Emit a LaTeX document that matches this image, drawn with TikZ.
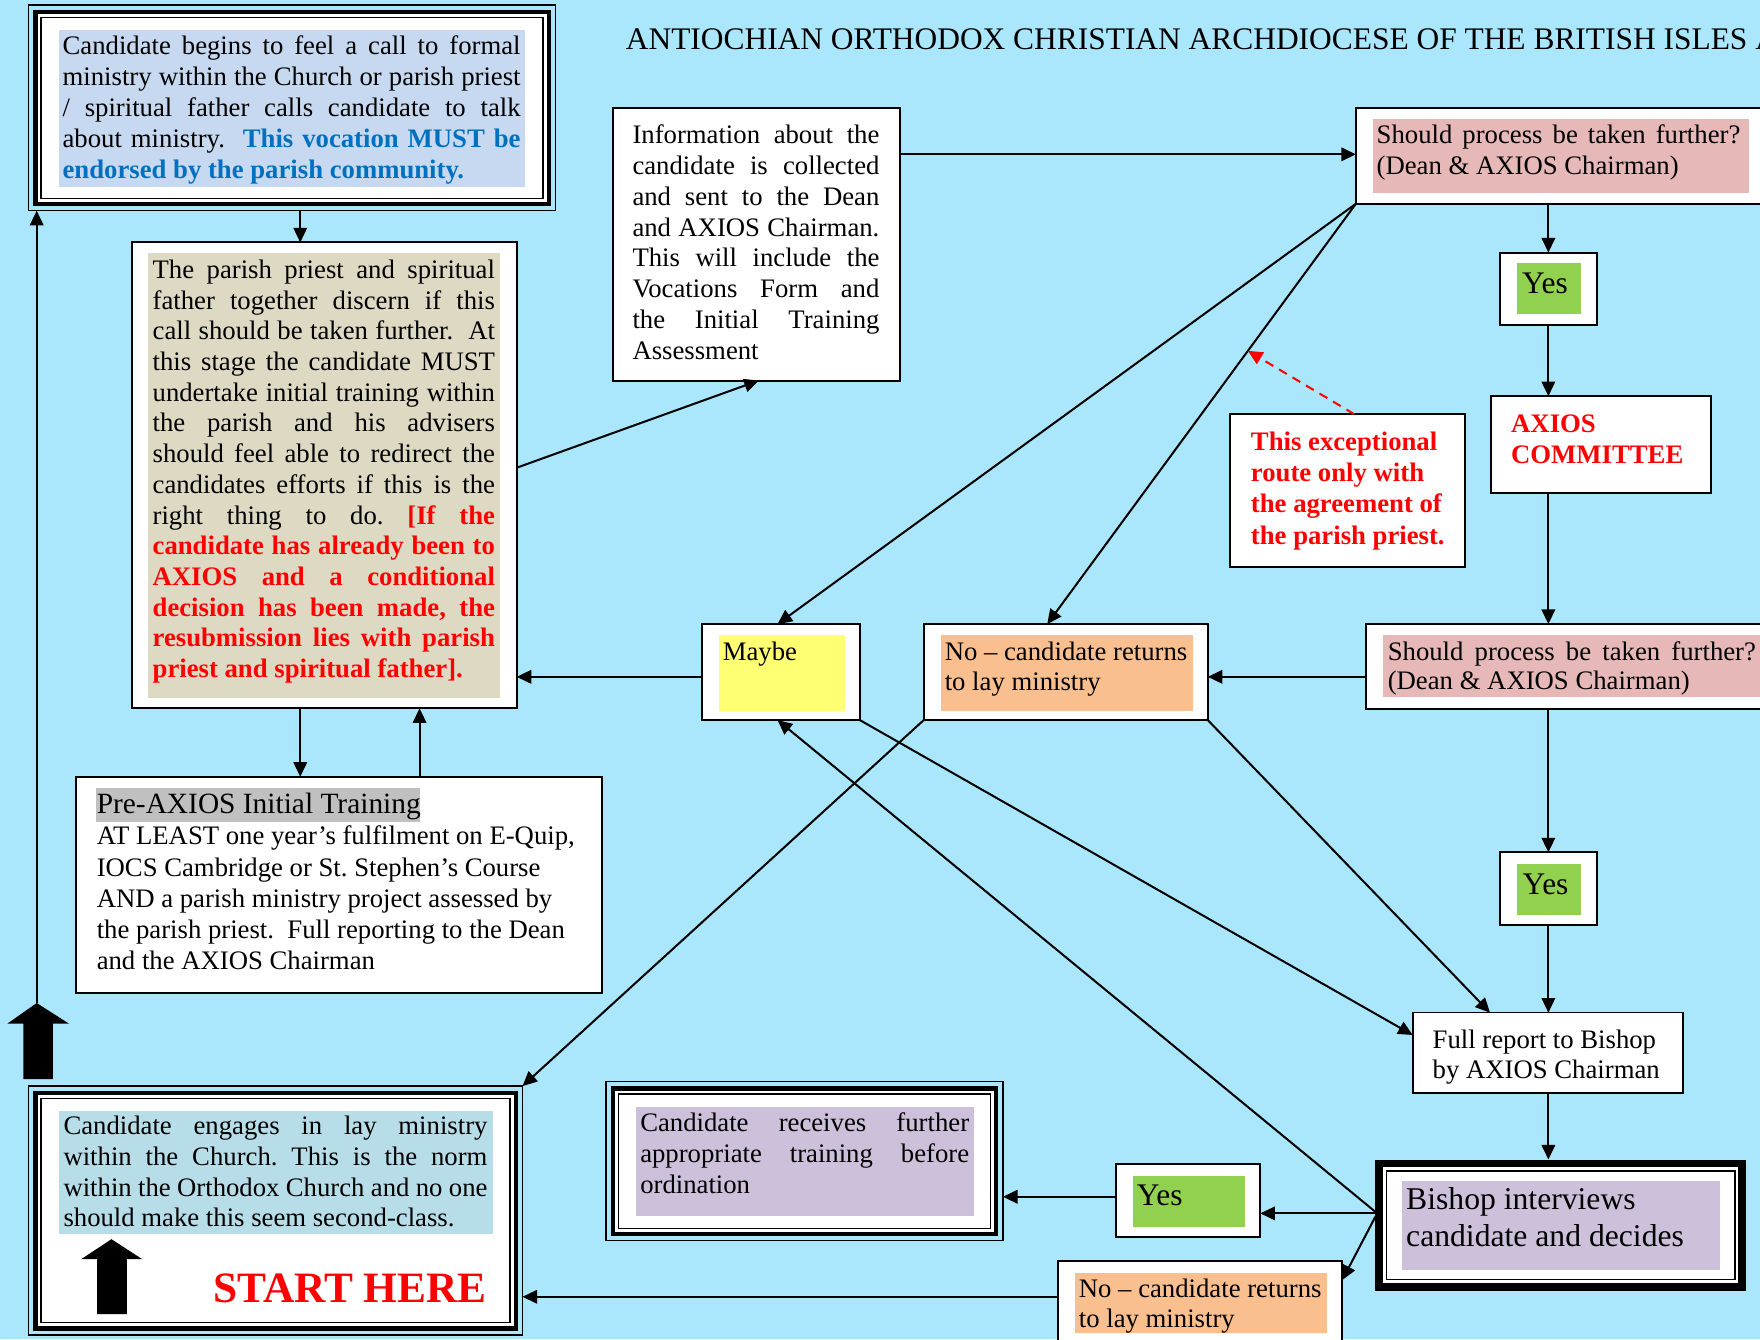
\documentclass[tikz,border=0pt]{standalone}
\usepackage{fontspec}
\setmainfont{Liberation Serif}
\usetikzlibrary{arrows.meta,fit,calc}
\definecolor{bgblue}{RGB}{170,231,252}
\definecolor{fillA}{RGB}{198,217,240}
\definecolor{blueT}{RGB}{0,112,192}
\definecolor{tanF}{RGB}{221,217,195}
\definecolor{pinkF}{RGB}{230,184,183}
\definecolor{greenF}{RGB}{146,208,80}
\definecolor{yellowF}{RGB}{255,255,115}
\definecolor{orangeF}{RGB}{250,191,143}
\definecolor{purpleF}{RGB}{204,192,218}
\definecolor{startF}{RGB}{183,222,232}
\definecolor{grayF}{RGB}{192,192,192}
\definecolor{redT}{RGB}{255,0,0}
\frenchspacing
\newcommand{\normsp}{\spaceskip=0pt\xspaceskip=0pt\frenchspacing\relax}
\newcommand{\jline}[1]{\makebox[\hsize][s]{\normsp #1}}
\newcommand{\redbf}[1]{{\color{redT}\bfseries #1}}
\newcommand{\bluebf}[1]{{\color{blueT}\bfseries #1}}
\newcommand{\tripleframe}[1]{%
  \fill[white] ($(#1.north west)+(4,4)$) rectangle ($(#1.south east)+(-4,-4)$);
  \draw[line width=2pt] ($(#1.north west)+(6,6)$) rectangle ($(#1.south east)+(-6,-6)$);
  \draw[line width=0.7pt] ($(#1.north west)+(11,11)$) rectangle ($(#1.south east)+(-11,-11)$);
}
\tikzset{
  box/.style={draw=black, line width=0.9pt, fill=white, inner sep=0pt, outer sep=0pt},
  thinbox/.style={box, line width=0.7pt},
  tripleout/.style={draw=black, line width=0.6pt, inner sep=0pt, outer sep=0pt},
  heavyout/.style={draw=black, line width=3.5pt, fill=white, inner sep=0pt, outer sep=1.75pt},
  tx/.style={inner sep=0pt, outer sep=0pt, anchor=base west, font=\fontsize{11.9}{13.7}\selectfont},
  tw/.style={tx, align=left},
  conn/.style={draw=black, line width=0.9pt, -{Triangle[length=6.5pt,width=6pt]}},
  dconn/.style={draw=redT, line width=0.9pt, dash pattern=on 4pt off 3pt, -{Triangle[length=6.5pt,width=6pt]}},
}
\begin{document}
\begin{tikzpicture}[x=0.5pt,y=-0.5pt]
\useasboundingbox (0,0) rectangle (1568,1193);
\clip (0,0) rectangle (1568,1193);
\fill[bgblue] (0,0) rectangle (1568,1193);

% title
\node[tx, font=\fontsize{14}{16}\selectfont] (title) at (557.6,44.5) {ANTIOCHIAN ORTHODOX CHRISTIAN ARCHDIOCESE OF THE BRITISH ISLES A};

% box 1 (top left)
\node[tripleout, fit={(25.5,4.5)(495,187.7)}] (b1) {};
\tripleframe{b1}
\fill[fillA] (52.2,26.7) rectangle (467.8,166.3);
\node[tw, text width=204pt, font=\fontsize{11.9}{13.85}\selectfont] (b1t) at (55.8,48.4) {\normsp
\jline{Candidate begins to feel a call to formal}\\
\jline{ministry within the Church or parish priest}\\
\jline{/ spiritual father calls candidate to talk}\\
\jline{about ministry.\ \ \bluebf{This vocation MUST be}}\\
\bluebf{endorsed by the parish community.}};

% info box
\node[box, fit={(546,96.5)(802,339)}] (info) {};
\node[tw, text width=110pt] (infot) at (563.5,128.2) {\normsp
\jline{Information about the}\\
\jline{candidate is collected}\\
\jline{and sent to the Dean}\\
\jline{and AXIOS Chairman.}\\
\jline{This will include the}\\
\jline{Vocations Form and}\\
\jline{the Initial Training}\\
Assessment};

% should (top)
\node[box, fit={(1208,96.5)(1600,181.5)}] (shT) {};
\fill[pinkF] (1223,106) rectangle (1558.3,172);
\node[tw, text width=162pt, font=\fontsize{11.9}{14}\selectfont] (shTt) at (1226.5,127.8) {\normsp
\jline{Should process be taken further?}\\
(Dean \& AXIOS Chairman)};

% yes 1
\node[box, fit={(1336.4,225)(1422.5,289.5)}] (yes1) {};
\fill[greenF] (1351.6,234.6) rectangle (1408.6,279.8);
\node[tx, font=\fontsize{14}{16}\selectfont] (yes1t) at (1356,261.3) {Yes};

% AXIOS committee
\node[box, fit={(1328,353)(1524,439)}] (axios) {};
\node[tw, text width=90pt, font=\fontsize{11.9}{14.1}\selectfont\bfseries\color{redT}] (axiost) at (1346.3,385) {\normsp AXIOS\\COMMITTEE};

% exceptional
\node[box, fit={(1096,369)(1305,505.5)}] (except) {};
\node[tw, text width=95pt, font=\fontsize{11.9}{14}\selectfont\bfseries\color{redT}] (exceptt) at (1114.5,401) {\normsp This exceptional\\route only with\\the agreement of\\the parish priest.};

% discern
\node[box, fit={(117.3,216)(460.3,631)}] (disc) {};
\fill[tanF] (132,225.7) rectangle (445.5,621.6);
\node[tw, text width=152.5pt, font=\fontsize{11.9}{13.68}\selectfont] (disct) at (136,248) {\normsp
\jline{The parish priest and spiritual}\\
\jline{father together discern if this}\\
\jline{call should be taken further.\ \ At}\\
\jline{this stage the candidate MUST}\\
\jline{undertake initial training within}\\
\jline{the parish and his advisers}\\
\jline{should feel able to redirect the}\\
\jline{candidates efforts if this is the}\\
\jline{right thing to do. \redbf{[If the}}\\
\jline{\redbf{candidate has already been to}}\\
\jline{\redbf{AXIOS and a conditional}}\\
\jline{\redbf{decision has been made, the}}\\
\jline{\redbf{resubmission lies with parish}}\\
\redbf{priest and spiritual father].}};

% maybe
\node[box, fit={(625.5,556)(766,641.5)}] (maybe) {};
\fill[yellowF] (640.6,566) rectangle (752.6,633.5);
\node[tx] (maybet) at (644,588.8) {Maybe};

% no (middle)
\node[box, fit={(823,556)(1076,641.5)}] (nomid) {};
\fill[orangeF] (838,566) rectangle (1063,633);
\node[tw, text width=115pt, font=\fontsize{11.9}{13.65}\selectfont] (nomidt) at (841.7,588) {\normsp No -- candidate returns\\to lay ministry};

% should (middle)
\node[box, fit={(1216.6,556)(1600,632)}] (shM) {};
\fill[pinkF] (1231.7,566) rectangle (1600,621);
\node[tw, text width=164pt, font=\fontsize{11.9}{13.3}\selectfont] (shMt) at (1236.4,588) {\normsp
\jline{Should process be taken further?}\\
(Dean \& AXIOS Chairman)};

% pre-AXIOS
\node[box, fit={(67.6,692)(536.7,884.4)}] (pre) {};
\fill[grayF] (85.5,702.4) rectangle (374.6,732);
\node[tw, text width=230pt, font=\fontsize{11.9}{13.9}\selectfont] (pret) at (86.2,725) {\normsp
{\fontsize{13.1}{13.9}\selectfont Pre-AXIOS Initial Training}\\
AT LEAST one year’s fulfilment on E-Quip,\\
IOCS Cambridge or St. Stephen’s Course\\
AND a parish ministry project assessed by\\
the parish priest.\ \ Full reporting to the Dean\\
and the AXIOS Chairman};

% yes 2
\node[box, fit={(1336.4,759.4)(1422.5,824.4)}] (yes2) {};
\fill[greenF] (1351.6,769.8) rectangle (1408.6,815);
\node[tx, font=\fontsize{14}{16}\selectfont] (yes2t) at (1356.6,796.5) {Yes};

% full report
\node[thinbox, fit={(1258.6,902.2)(1499.2,973.5)}] (full) {};
\node[tw, text width=115pt, font=\fontsize{11.9}{13.4}\selectfont] (fullt) at (1276.4,934.3) {\normsp Full report to Bishop\\by AXIOS Chairman};

% bishop
\node[heavyout, fit={(1228.8,1036.5)(1552.3,1146.5)}] (bishop) {};
\draw[line width=0.7pt] ($(bishop.north west)+(10,10)$) rectangle ($(bishop.south east)+(-10,-10)$);
\fill[purpleF] (1248.8,1052.2) rectangle (1532.4,1131.5);
\node[tw, text width=135pt, font=\fontsize{14.1}{16.4}\selectfont] (bishopt) at (1252.8,1077.5) {\normsp Bishop interviews\\candidate and decides};

% yes 3
\node[box, fit={(994,1037.3)(1122.8,1101.8)}] (yes3) {};
\fill[greenF] (1009.5,1047.8) rectangle (1109.3,1092.9);
\node[tx, font=\fontsize{14}{16}\selectfont] (yes3t) at (1012.8,1073.6) {Yes};

% further training
\node[tripleout, fit={(540,963.7)(893.5,1105.4)}] (further) {};
\tripleframe{further}
\fill[purpleF] (566.4,986) rectangle (868,1083);
\node[tw, text width=146.5pt, font=\fontsize{11.9}{14}\selectfont] (furthert) at (570.4,1007.7) {\normsp
\jline{Candidate receives further}\\
\jline{appropriate training before}\\
ordination};

% no (bottom)
\node[box, fit={(943,1123.2)(1195.8,1215)}] (nobot) {};
\fill[orangeF] (957.8,1133.9) rectangle (1182.3,1187.9);
\node[tw, text width=115pt, font=\fontsize{11.9}{13.2}\selectfont] (nobott) at (961.2,1156.2) {\normsp No -- candidate returns\\to lay ministry};

% start box
\node[tripleout, fit={(25.5,967.6)(465.5,1189.4)}] (start) {};
\tripleframe{start}
\fill[startF] (52.5,989.8) rectangle (439.1,1099.4);
\node[tw, text width=188.85pt, font=\fontsize{11.9}{13.65}\selectfont] (startt) at (56.6,1011) {\normsp
\jline{Candidate engages in lay ministry}\\
\jline{within the Church. This is the norm}\\
\jline{within the Orthodox Church and no one}\\
should make this seem second-class.};
\fill[black] (99.3,1104) -- (126.6,1121.7) -- (113,1121.7) -- (113,1170.7) -- (86.6,1170.7) -- (86.6,1121.7) -- (72.5,1121.7) -- cycle;
\node[tx, font=\fontsize{19.3}{22}\selectfont\bfseries\color{redT}] (starthere) at (190,1160.6) {START HERE};

% big left arrow
\fill[black] (32.7,893.6) -- (61.5,912) -- (47,912) -- (47,961.5) -- (20.8,961.5) -- (20.8,912) -- (6.5,912) -- cycle;
\coordinate (bigtip) at (32.7,893.6);

% connectors
\draw[conn] (b1.south -| 267.5,0) -- (disc.north -| 267.5,0);
\draw[conn] (disc.east |- 0,416.7) -- (info.south -| 676,0);
\draw[conn] (info.east |- 0,137.5) -- (shT.west |- 0,137.5);
\draw[conn] (shT.south -| yes1.north) -- (yes1.north);
\draw[conn] (yes1.south) -- (axios.north -| yes1.south);
\draw[conn] (axios.south -| yes1.south) -- (shM.north -| yes1.south);
\draw[conn] (shT.south west) -- (maybe.north -| 692.7,0);
\draw[conn] (shT.south west) -- (nomid.north -| 933,0);
\coordinate (exc) at ($(shT.south west)!0.35!(nomid.north -| 933,0)$);
\draw[dconn] (except.north -| 1206.5,0) -- (exc);
\draw[conn] (shM.west |- 0,603) -- (nomid.east |- 0,603);
\draw[conn] (maybe.west |- 0,603) -- (disc.east |- 0,603);
\draw[conn] (shM.south -| yes2.north) -- (yes2.north);
\draw[conn] (yes2.south) -- (full.north -| yes2.south);
\draw[conn] (nomid.south east) -- (full.north -| 1327.5,0);
\draw[conn] (maybe.south east) -- (full.west |- 0,922.1);
\draw[conn] (nomid.south west) -- (start.north east);
\draw[conn] (bishop.west |- 0,1079.6) -- (maybe.south -| 692.7,0);
\draw[conn] (full.south -| yes2.south) -- (bishop.north -| yes2.south);
\draw[conn] (bishop.west |- 0,1081) -- (yes3.east |- 0,1081);
\draw[conn] (yes3.west |- 0,1066.2) -- (further.east |- 0,1066.2);
\draw[conn] (bishop.west |- 0,1084) -- (nobot.east |- 0,1140.4);
\draw[conn] (nobot.west |- 0,1155.3) -- (start.east |- 0,1155.3);
\draw[conn] (disc.south -| 267.5,0) -- (pre.north -| 267.5,0);
\draw[conn] (pre.north -| 373.8,0) -- (disc.south -| 373.8,0);
\draw[conn] (bigtip) -- (b1.south -| bigtip);
\end{tikzpicture}
\end{document}
